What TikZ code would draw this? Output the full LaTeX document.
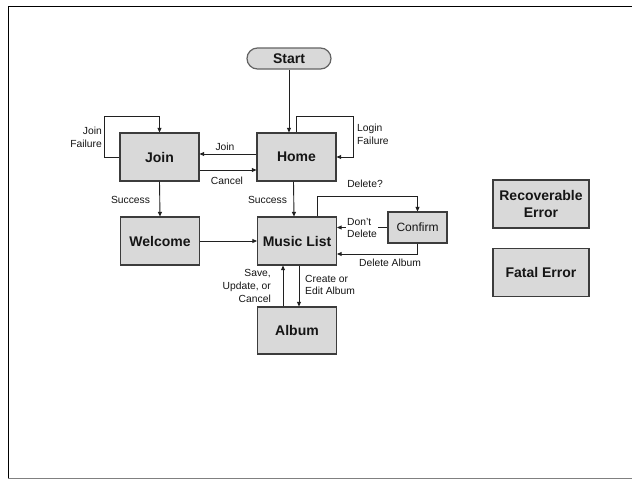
\documentclass[tikz,border=0pt]{standalone}
\usepackage{fontspec}
\setmainfont{Liberation Sans}
\usetikzlibrary{arrows.meta}
\definecolor{boxfill}{HTML}{D9D9D9}
\definecolor{boxline}{HTML}{3C3C3C}
\definecolor{linec}{HTML}{202020}
\definecolor{txt}{HTML}{151515}
\tikzset{
  box/.style={draw=boxline, fill=boxfill, line width=1.2pt, inner sep=0pt,
    minimum width=79pt, minimum height=48pt, text=txt, align=center,
    font=\bfseries\fontsize{14}{16.5}\selectfont},
  pill/.style={draw=boxline!80, fill=boxfill, line width=1.2pt, inner sep=0pt,
    rounded corners=10.5pt, minimum width=84pt, minimum height=21pt, text=txt,
    font=\bfseries\fontsize{14}{16}\selectfont},
  lbl/.style={font=\fontsize{10.3}{12.8}\selectfont, text=txt, inner sep=0pt},
  conn/.style={draw=linec, line width=0.9pt, -{Triangle[length=4.5pt,width=4pt]}}
}
\begin{document}
\begin{tikzpicture}[x=1pt,y=-1pt]
\useasboundingbox (0,0) rectangle (632,480);
\fill[white] (0,0) rectangle (632,480);
% frame
\draw[black, line width=1pt] (632,6) -- (8,6) -- (8,478);
\draw[gray, line width=1pt] (8,478) -- (632,478);

% nodes
\node[pill] (start) at (289,58.5) {Start};
\node[box] (join) at (159.5,157) {Join};
\node[box] (home) at (296.5,157) {Home};
\node[box] (welcome) at (160,241) {Welcome};
\node[box] (music) at (297,241) {Music List};
\node[box, minimum width=59pt, minimum height=31pt, font=\fontsize{12}{14}\selectfont] (confirm) at (417.5,227.5) {Confirm};
\node[box, minimum height=47pt] (album) at (297,330.5) {Album};
\node[box, minimum width=96pt] (rec) at (541,204) {Recoverable\\Error};
\node[box, minimum width=96pt] (fatal) at (541,272.5) {Fatal Error};

% connectors
\draw[conn] (start.south) -- (start.south |- home.north);
\draw[conn] (join.west) -- ++(-15,0) |- ([yshift=16pt]join.north) -- (join.north);
\draw[conn] (home.north) -- ++(0,-16) -| ([xshift=17pt]home.east) -- (home.east);
\draw[conn] ([yshift=3pt]home.west) -- ([yshift=3pt]join.east);
\draw[conn] ([yshift=-13pt]join.east) -- ([yshift=-13pt]home.west);
\draw[conn] (join.south) -- (welcome.north);
\draw[conn] ([xshift=-3pt]home.south) -- ([xshift=-3pt]music.north);
\draw[conn] (welcome.east) -- (music.west);
\draw[conn] ([xshift=20pt]music.north) -- ++(0,-20) -| (confirm.north);
\draw[conn] (confirm.west) -- (confirm.west -| music.east);
\draw[conn] (confirm.south) |- ([yshift=-13pt]music.east);
\draw[conn] ([xshift=-14pt]album.north) -- ([xshift=-14pt]music.south);
\draw[conn] ([xshift=2pt]music.south) -- ([xshift=2pt]album.north);

% labels
\node[lbl, align=right, anchor=east] (ljf) at (102,137.5) {Join\\Failure};
\node[lbl, align=left, anchor=west] (llf) at (357,134.5) {Login\\Failure};
\node[lbl] (ljoin) at (225,147) {Join};
\node[lbl] (lcancel) at (227,181) {Cancel};
\node[lbl] (ls1) at (130.5,200) {Success};
\node[lbl] (ls2) at (267.5,200) {Success};
\node[lbl] (ldel) at (365,184) {Delete?};
\node[lbl, align=left, fill=white, inner sep=1pt] (ldd) at (362,228) {Don't\\Delete};
\node[lbl] (lda) at (390,263) {Delete Album};
\node[lbl, align=right, anchor=east] (lsave) at (271,286) {Save,\\Update, or\\Cancel};
\node[lbl, align=left, anchor=west] (lcreate) at (305,285) {Create or\\Edit Album};
\end{tikzpicture}
\end{document}
